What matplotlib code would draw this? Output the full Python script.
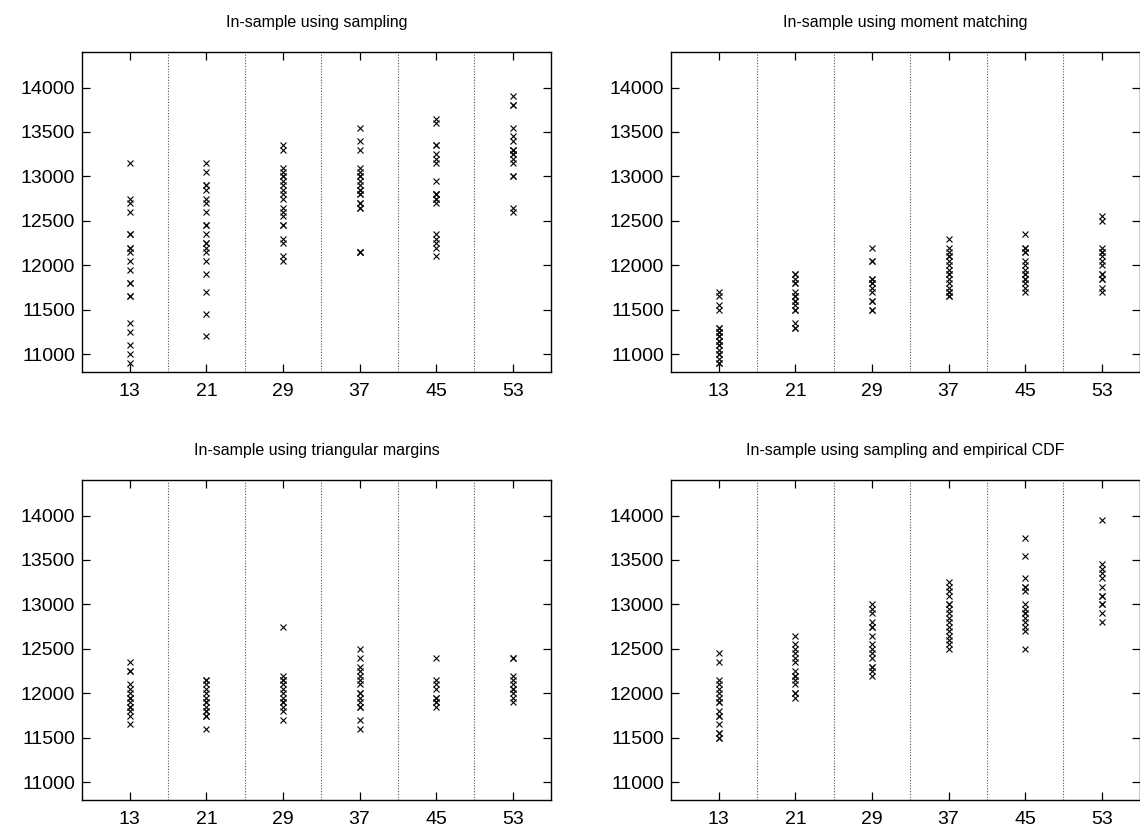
import numpy as np
import matplotlib
matplotlib.use("Agg")
import matplotlib.pyplot as plt

plt.rcParams["font.family"] = ["Liberation Sans", "DejaVu Sans"]

# ---------- data ----------
stages = [13, 21, 29, 37, 45, 53]
separators = [17, 25, 33, 41, 49]
y_ticks = [11000, 11500, 12000, 12500, 13000, 13500, 14000]

titles = [
    "In-sample using sampling",
    "In-sample using moment matching",
    "In-sample using triangular margins",
    "In-sample using sampling and empirical CDF",
]

sampling = [
    [13150, 12750, 12700, 12600, 12350, 12350, 12200, 12200, 12150, 12050,
     11950, 11800, 11800, 11650, 11650, 11350, 11250, 11100, 11000, 10900],
    [13150, 13050, 12900, 12900, 12850, 12750, 12700, 12600, 12450, 12450,
     12350, 12250, 12250, 12200, 12150, 12050, 11900, 11700, 11450, 11200],
    [13350, 13300, 13100, 13050, 13000, 13000, 12950, 12900, 12850, 12800,
     12750, 12650, 12600, 12550, 12450, 12450, 12300, 12250, 12100, 12050],
    [13550, 13400, 13300, 13100, 13050, 13000, 13000, 12950, 12900, 12850,
     12850, 12800, 12800, 12700, 12700, 12650, 12650, 12150, 12150, 12150],
    [13650, 13600, 13350, 13350, 13250, 13200, 13150, 12950, 12800, 12800,
     12800, 12750, 12750, 12700, 12350, 12300, 12250, 12200, 12100],
    [13900, 13800, 13800, 13550, 13450, 13400, 13300, 13300, 13300, 13250,
     13250, 13200, 13150, 13000, 13000, 12650, 12600],
]

moment = [
    [11700, 11650, 11550, 11500, 11300, 11300, 11250, 11250, 11200, 11200,
     11150, 11150, 11100, 11100, 11050, 11000, 11000, 10950, 10900, 10900],
    [11900, 11900, 11850, 11800, 11800, 11700, 11650, 11650, 11600, 11600,
     11550, 11500, 11500, 11350, 11300, 11300],
    [12200, 12050, 12050, 11850, 11850, 11800, 11800, 11750, 11700, 11600,
     11600, 11500, 11500],
    [12300, 12200, 12150, 12100, 12100, 12050, 12000, 11950, 11900, 11900,
     11850, 11800, 11750, 11700, 11700, 11650, 11650],
    [12350, 12200, 12200, 12150, 12150, 12050, 12000, 11950, 11900, 11900,
     11850, 11850, 11800, 11750, 11700],
    [12550, 12500, 12200, 12150, 12150, 12100, 12050, 12000, 11900, 11900,
     11850, 11850, 11750, 11700],
]

triangular = [
    [12350, 12250, 12250, 12100, 12050, 12000, 11950, 11950, 11900, 11850,
     11850, 11800, 11750, 11650],
    [12150, 12150, 12100, 12050, 12000, 11950, 11900, 11900, 11850, 11800,
     11800, 11750, 11750, 11600],
    [12750, 12200, 12150, 12150, 12100, 12050, 12000, 11950, 11900, 11900,
     11850, 11800, 11700],
    [12500, 12400, 12300, 12250, 12200, 12150, 12100, 12000, 12000, 11950,
     11900, 11850, 11850, 11700, 11600],
    [12400, 12150, 12100, 12050, 11950, 11950, 11900, 11900, 11850],
    [12400, 12400, 12200, 12150, 12100, 12050, 12050, 12000, 11950, 11900],
]

empirical = [
    [12450, 12350, 12150, 12100, 12050, 12000, 11950, 11900, 11900, 11800,
     11750, 11750, 11650, 11550, 11550, 11500, 11500],
    [12650, 12550, 12500, 12450, 12400, 12350, 12250, 12200, 12200, 12150,
     12100, 12000, 12000, 11950],
    [13000, 12950, 12900, 12800, 12750, 12750, 12650, 12550, 12500, 12450,
     12400, 12300, 12300, 12250, 12200],
    [13250, 13200, 13150, 13100, 13000, 13000, 12950, 12900, 12850, 12800,
     12750, 12700, 12650, 12600, 12550, 12500],
    [13750, 13550, 13300, 13200, 13200, 13150, 13000, 12950, 12900, 12900,
     12850, 12800, 12750, 12700, 12500],
    [13950, 13450, 13400, 13350, 13300, 13200, 13100, 13100, 13000, 13000,
     12900, 12800],
]

panels = [sampling, moment, triangular, empirical]

# ---------- layout (pixel boxes -> figure fractions) ----------
W, H = 1140, 833
ax_w, ax_h = 469, 320
lefts = [82, 671]
tops = [52, 480]

fig = plt.figure(figsize=(W / 100, H / 100), dpi=100)

for k, (title, panel) in enumerate(zip(titles, panels)):
    left = lefts[k % 2]
    top = tops[k // 2]
    ax = fig.add_axes([left / W, (H - top - ax_h) / H, ax_w / W, ax_h / H])

    for sep in separators:
        ax.axvline(sep, color="#555555", lw=0.8, ls=(0, (1, 1.5)), zorder=1)

    for x, vals in zip(stages, panel):
        ax.plot(np.full(len(vals), x), vals, ls="none", marker="x",
                ms=5, mew=0.8, color="black", zorder=3)

    ax.set_xlim(8, 57)
    ax.set_ylim(10800, 14400)
    ax.set_xticks(stages)
    ax.set_yticks(y_ticks)
    ax.tick_params(direction="in", length=6, width=0.9, labelsize=14,
                   top=True, right=True)
    ax.tick_params(axis="x", pad=8)
    ax.tick_params(axis="y", pad=5)
    for s in ax.spines.values():
        s.set_linewidth(1.0)
    ax.set_title(title, fontsize=11.5, pad=18)

fig.savefig("out.png", dpi=100)
